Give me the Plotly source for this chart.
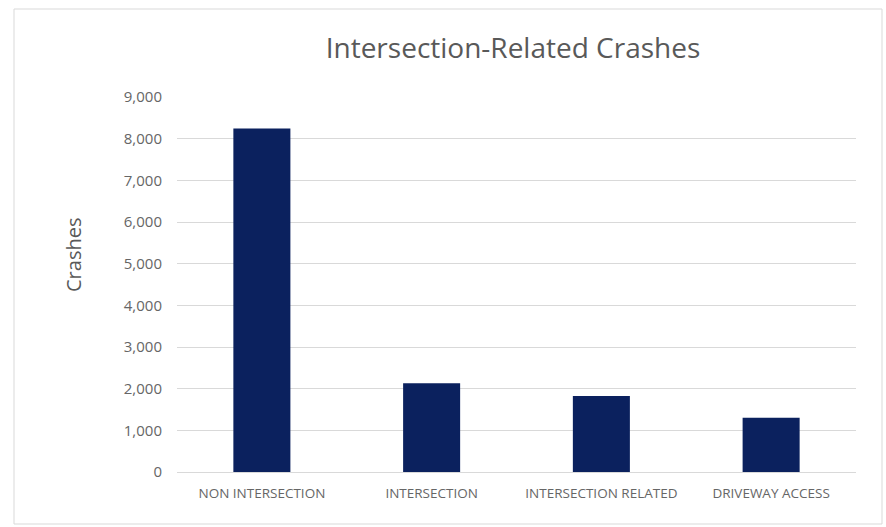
import plotly.graph_objects as go

categories = ["NON INTERSECTION", "INTERSECTION", "INTERSECTION RELATED", "DRIVEWAY ACCESS"]
crashes = [8245, 2128, 1822, 1302]
y_ticks = [0, 1000, 2000, 3000, 4000, 5000, 6000, 7000, 8000, 9000]
y_tick_labels = ["0", "1,000", "2,000", "3,000", "4,000", "5,000", "6,000", "7,000", "8,000", "9,000"]

W, H = 886, 527
L, R, T, B = 177, 30, 97, 55

fig = go.Figure(go.Bar(
    x=categories, y=crashes,
    marker=dict(color="#0b215e", line=dict(width=0)),
    width=0.336,
))

pw = W - L - R
ph = H - T - B
def px_x(p):
    return (p - L) / pw
def px_y(p):
    return (H - B - p) / ph

fig.update_layout(
    width=W, height=H,
    margin=dict(l=L, r=R, t=T, b=B),
    paper_bgcolor="white", plot_bgcolor="white",
    font=dict(family="Open Sans, Noto Sans, sans-serif", color="#595959"),
    title=dict(text="Intersection-Related Crashes", x=513 / W, xanchor="center",
               xref="container", y=1 - 48 / H, yanchor="middle", yref="container",
               font=dict(size=28, color="#595959")),
    showlegend=False,
    xaxis=dict(showgrid=False, showline=False, ticks="", tickfont=dict(size=13.5, color="#666666"),
               ticklabelstandoff=11),
    yaxis=dict(range=[0, 9000], tickvals=y_ticks, ticktext=y_tick_labels,
               showgrid=True, gridcolor="#d9d9d9", gridwidth=1,
               zeroline=True, zerolinecolor="#d9d9d9", zerolinewidth=1,
               showline=False, ticks="", tickfont=dict(size=15, color="#666666"),
               ticklabelstandoff=14),
    annotations=[dict(text="Crashes", textangle=-90, xref="paper", yref="paper",
                      x=px_x(73), y=px_y(255), xanchor="center", yanchor="middle",
                      showarrow=False, font=dict(size=20, color="#595959"))],
    shapes=[dict(type="rect", xref="paper", yref="paper",
                 x0=px_x(14), x1=px_x(882), y0=px_y(524), y1=px_y(9),
                 line=dict(color="#d9d9d9", width=1), fillcolor="rgba(0,0,0,0)", layer="below")],
)

fig.write_html("out.html", config={"displayModeBar": False},
               post_script="document.body.style.margin='0';document.body.style.overflow='hidden';")
